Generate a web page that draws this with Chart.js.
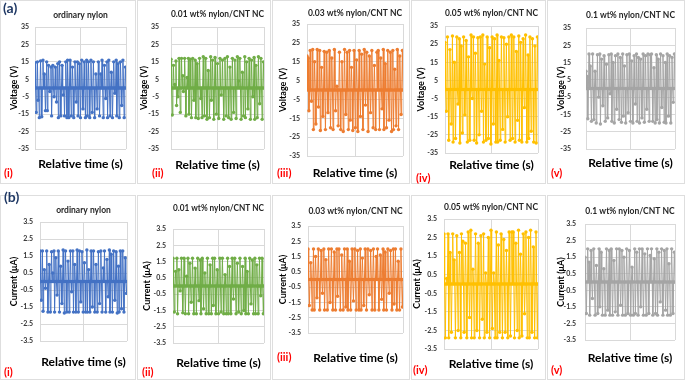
<!DOCTYPE html>
<html lang="en">
<head>
<meta charset="UTF-8">
<title>Nylon and nylon/CNT NC output</title>
<script src="https://cdn.jsdelivr.net/npm/chart.js"></script>
<style>
  body { margin: 0; width: 685px; height: 380px; background: #fff; position: relative; overflow: hidden; font-family: 'Lato', sans-serif; }
  .panel { position: absolute; outline: 1px solid #dedede; outline-offset: -1px; }
  .panel canvas { position: absolute; left: 0; top: 0; }
  .tag { position: absolute; font-weight: bold; color: #ff0000; font-size: 11px; line-height: 12px; }
  .part { position: absolute; z-index: 5; font-weight: bold; color: #1f3864; font-size: 14px; line-height: 16px; }
</style>
</head>
<body>
<div class="part" style="left:3px;top:0px">(a)</div>
<div class="part" style="left:4px;top:189px">(b)</div>
<script>
// axis ticks
const voltTicks = [-35, -25, -15, -5, 5, 15, 25, 35];
const currTicks = [-3.5, -2.5, -1.5, -0.5, 0.5, 1.5, 2.5, 3.5];

const sampleTitles = ['ordinary nylon', '0.01 wt% nylon/CNT NC', '0.03 wt% nylon/CNT NC', '0.05 wt% nylon/CNT NC', '0.1 wt% nylon/CNT NC'];
const romans = ['(i)', '(ii)', '(iii)', '(iv)', '(v)'];
const sampleColors = ['#4472C4', '#70AD47', '#ED7D31', '#FFC000', '#A5A5A5'];

// voltage (V)
const voltOrdinary = [14.5,0,-14,0,15,-7,0,-17,0,15.5,0,-16.5,0,16,0,8,0,-13,0,15,-13,0,13,0,-2,0,12,-16,0,13,0,-5,0,12,0,-8,0,14,-17,0,15,0,-16,0,13,0,-4,0,-16,0,15,0,-17,16,0,-17,0,16,0,-16,0,12,0,-17,0,15,0,-8,0,15,-16,0,14,0,-17,0,16,0,-12,0,15,0,-17,0,16,-16,0,15,0,-17,0,16,0,-14,0,15,0,-17,0,8,0,-12,0,15,0,-16,0,8,0,16,0,-17,0,13,0,-6,0,15,-17,0,16,0,-16,0,9,0,-17,0,15,0,-3,0,16,-16,0,14,0,-17,0,15,0,-10,0,16,0,-17,0,12,0];
const volt001 = [16.5,0,-15.5,0,13,0,2,0,15.5,-10,0,-5,0,17,0,-14,0,17,0,7,-2,0,17,0,-16,0,6,0,17,-15,0,16.5,0,-17,0,17,0,-7,0,16,-17,0,14,0,-17.5,0,17,0,-6,0,-17,0,18,0,-16,0,17,0,-18,0,10,0,-17,0,18,-7,0,16,0,-18,0,17.5,0,-15,0,14,0,-17.5,0,17,0,-4,0,16,0,-18,0,17,0,-16,0,18,0,-17,0,12,0,-18,0,17,0,-14,0,16,0,-17.5,0,18,0,4,0,17,0,-18,0,9,0,-16,0,18,-17,0,15,0,-12,0,17,0,-18,0,16,0,-5,0,17.5,-18,0,13,0,-17,0,18,0,-9,0,17,0,-18,0,15,0];
const volt003 = [18,0,17,-11,0,21,0,-6,0,21.5,-21,0,15,0,-18,0,21.5,0,-9,0,21,-21.5,0,12,0,-14,0,20.5,0,-21,0,20,0,-12,0,21,0,-20,0,17,0,-21,0,21.5,0,-11,0,2,0,-19,0,20,0,-21,0,15,0,-22,0,21.5,0,-13,0,20,0,-21,0,21,-16,0,12,0,-21.5,0,21,0,-20,0,16,0,-22,0,21,0,-14,0,19,0,-21,0,21.5,0,-8,0,20,0,-22,0,18,0,-12,0,21,0,-20,0,13,0,-21,0,20,0,21,0,-21,0,17,0,-10,0,21.5,-21,0,14,0,-20,0,21,0,-16,0,20,0,-22,0,21,-21,0,11,0,-19,0,21.5,0,-21,0,18,0,-13,0,21,0];
const volt005 = [26,0,-12,0,29,0,-28,0,22,0,-19,0,29.5,-29,0,15,0,-27,0,29,0,-8,0,28,-29.5,0,24,0,-24,0,29,0,-14,0,27,0,-29,0,18,0,-28,0,30,0,-5,0,29,-28,0,20,0,-29.5,0,28.5,0,-25,0,29,0,-12,0,30,-29,0,14,0,-28,0,29,0,-27,0,23,0,-30,0,29,0,-19,0,28,0,-29,0,30,-29,0,16,0,-28,0,29,0,-22,0,28.5,0,-29,0,25,0,-15,0,29,0,-28,0,30,0,-27,0,29,0,-29,0,21,0,-17,0,29.5,-28,0,26,0,-29,0,28,0,-10,0,30,0,-29,0,19,-27,0,29,0,-23,0,28,0,-29,0,24,0,-29.5,0,29,0];
const volt01 = [10,0,7,-17.5,0,20,0,13,0,-19,0,20,0,-18,0,10,0,-20,0,19.5,0,-5,0,20,-20.5,0,17,0,-10,0,19,0,-19,0,14,0,-17,0,19.5,0,-3,0,20,-19,0,15,0,-20,0,19,0,-12,0,20,0,-18,0,18,0,-19.5,0,20,-16,0,13,0,-20,0,19.5,0,-14,0,20,0,-19,0,16,0,-20,0,19,0,-9,0,20,-19,0,18,0,-20,0,17,0,-17,0,20,0,-19.5,0,19,0,-12,0,20,0,-19,0,19.5,0,20,0,-19,0,12,0,-20,0,19.5,-18,0,17,0,-20,0,20,0,-11,0,19,0,-19.5,0,15,-20,0,20,0,-16,0,19,0,-20,0,18,0,-8,0,20,0];

// current (uA)
const currOrdinary = [1.8,0,-1.1,0,1.8,-1.75,0,0.7,0,-0.4,0,1.8,0,-1.8,0,1.0,0,-1.8,0,1.75,0,0.5,0,1.8,-1.8,0,1.4,0,-0.8,0,1.8,0,-1.8,0,0.9,0,-1.3,0,1.85,0,-1.85,0,1.8,0,-1.8,0,1.2,0,-1.8,0,1.8,0,-0.6,0,1.8,-1.8,0,1.0,0,-1.8,0,1.85,0,-1.8,0,1.8,0,-1.2,0,1.75,0,-1.8,0,1.1,0,-1.8,0,1.85,-1.8,0,0.7,0,-1.8,0,1.8,0,-1.5,0,1.8,0,-1.8,0,1.0,0,-1.8,0,1.75,0,-1.3,0,1.8,0,-1.8,0,0.8,0,1.8,0,-1.8,0,1.3,0,-0.9,0,1.85,-1.8,0,1.6,0,-1.8,0,1.8,0,-1.1,0,1.75,0,-1.85,0,0.9,-1.8,0,1.8,0,-1.6,0,1.8,0,-1.8,0,1.4,0,-0.7,0];
const curr001 = [1.7,0,-1.6,0,0.9,0,1.7,-1.7,0,1.0,0,-0.3,0,1.7,0,-1.65,0,1.7,0,-1.7,0,0.6,0,1.7,-1.7,0,1.4,0,-1.0,0,1.7,0,-1.7,0,1.1,0,-1.7,0,1.7,0,-0.9,0,1.6,-1.7,0,1.7,0,-1.4,0,0.8,0,-1.7,0,1.7,0,-1.7,0,1.3,0,-1.7,0,1.7,-1.2,0,1.7,0,-1.7,0,1.0,0,-1.7,0,1.7,0,-1.6,0,1.7,0,-1.7,0,0.7,0,-1.7,0,1.7,-1.7,0,1.2,0,-1.7,0,1.7,0,-0.8,0,1.7,0,-1.7,0,1.4,0,-1.6,0,1.7,0,-1.7,0,1.2,0,-1.5,0,1.7,-1.7,0,0.9,0,-1.7,0,1.7,0,-1.1,0,1.6,0,-1.7,0,1.7,-1.7,0,1.3,0,-1.7,0,1.7,0,-0.6,0,1.7,0,-1.7,0];
const curr003 = [2.0,0,-1.7,0,1.1,0,-2.0,0,2.0,-2.0,0,1.5,0,-1.2,0,2.0,0,-2.0,0,1.9,0,-0.9,0,2.0,-2.0,0,1.3,0,-2.0,0,2.0,0,-1.5,0,2.0,0,-2.0,0,1.8,0,-2.0,0,2.0,-1.1,0,2.0,0,-2.0,0,1.6,0,-2.0,0,2.0,0,-1.8,0,2.0,-2.0,0,1.2,0,-2.0,0,2.0,0,-1.4,0,2.0,0,-2.0,0,1.9,0,-2.0,0,2.0,-2.0,0,1.4,0,-1.7,0,2.0,0,-2.0,0,2.0,0,-1.0,0,1.9,0,-2.0,0,2.0,0,-2.0,0,1.5,0,2.0,0,-2.0,0,1.6,0,-1.3,0,2.0,-2.0,0,1.8,0,-2.0,0,2.0,0,-0.9,0,1.9,0,-2.0,0,2.0,-1.6,0,2.0,0,-2.0,0,1.2,0,-2.0,0,2.0,0,-1.8,0];
const curr005 = [2.7,0,-2.9,0,0.3,0,2.7,-2.9,0,1.7,0,-2.6,0,2.7,0,1.3,0,-2.9,0,2.6,0,-2.5,0,1.7,0,-2.9,2.7,0,2.3,0,-2.6,0,2.2,0,-2.9,0,2.8,0,-1.8,0,2.9,-2.9,0,0.8,0,-2.9,0,2.7,0,-2.5,0,2.2,0,-2.9,0,2.6,0,-1.9,0,2.7,-2.9,0,0.6,0,-2.6,0,2.5,0,-2.9,0,2.9,0,-2.4,0,0.6,0,-2.9,0,2.8,-2.9,0,2.1,0,-2.6,0,2.7,0,-2.9,0,2.4,0,-2.6,0,1.8,0,-2.9,0,2.8,0,-2.8,0,2.8,0,2.8,0,-2.9,0,2.2,0,-2.5,0,2.9,-2.9,0,1.6,0,-2.8,0,2.7,0,-1.6,0,2.8,0,-2.9,0,2.5,-2.9,0,2.9,0,-2.6,0,2.0,0,-2.9,0,2.8,0,-2.9,0];
const curr01 = [1.5,0,-1.9,0,2.0,0,1.2,-2.0,0,1.9,0,-1.0,0,2.0,0,-2.0,0,1.0,0,-1.9,0,2.0,-1.5,0,1.8,0,-2.0,0,0.8,0,-2.0,0,2.0,0,-1.7,0,1.9,-2.0,0,2.0,0,-2.0,0,1.3,0,-1.8,0,2.0,0,-2.0,0,2.0,0,-1.4,0,1.9,-2.0,0,1.5,0,-2.0,0,2.0,0,-1.9,0,1.9,0,-2.0,0,0.9,0,-2.0,0,2.0,-1.9,0,1.8,0,-2.0,0,2.0,0,-1.5,0,2.0,0,-2.0,0,1.7,0,-2.0,0,2.0,0,-1.9,0,1.6,0,2.0,0,-2.0,0,1.4,0,-1.9,0,2.0,-2.0,0,1.8,0,-1.2,0,2.0,0,-2.0,0,1.9,0,-1.7,0,2.0,-2.0,0,1.1,0,-2.0,0,2.0,0,-1.9,0,1.8,0];

const voltSeries = [voltOrdinary, volt001, volt003, volt005, volt01];
const currSeries = [currOrdinary, curr001, curr003, curr005, curr01];

// panel boxes and plot areas, px relative to each box
// L/R/T/B plot edges, tY title centre, xY x-title centre, yX y-title centre, tp tick gap, lx/ly roman label
const topRow = [
  { x: 0,   w: 136, L: 35, R: 126, T: 27, B: 149, tY: 15, xY: 164, yX: 14, tp: 6,  lx: 4, ly: 173 },
  { x: 137, w: 134, L: 34, R: 127, T: 27, B: 149, tY: 14, xY: 165, yX: 7,  tp: 12, lx: 15, ly: 173 },
  { x: 272, w: 138, L: 35, R: 131, T: 24, B: 156, tY: 13, xY: 173, yX: 11, tp: 7,  lx: 5, ly: 173 },
  { x: 411, w: 135, L: 34, R: 127, T: 26, B: 153, tY: 13, xY: 165, yX: 10, tp: 7,  lx: 5, ly: 178 },
  { x: 547, w: 138, L: 39, R: 128, T: 28, B: 149, tY: 15, xY: 163, yX: 14, tp: 15, lx: 4, ly: 173 }
];
const bottomRow = [
  { x: 0,   w: 136, L: 40, R: 127, T: 27, B: 146, tY: 15, xY: 167, yX: 14, tp: 7,  lx: 4, ly: 177 },
  { x: 137, w: 134, L: 36, R: 127, T: 34, B: 148, tY: 13, xY: 168, yX: 10, tp: 7,  lx: 5, ly: 177 },
  { x: 272, w: 138, L: 36, R: 131, T: 31, B: 138, tY: 16, xY: 163, yX: 11, tp: 7,  lx: 5, ly: 162 },
  { x: 411, w: 135, L: 33, R: 127, T: 24, B: 154, tY: 12, xY: 169, yX: 6,  tp: 7,  lx: 2, ly: 175 },
  { x: 547, w: 138, L: 38, R: 128, T: 29, B: 145, tY: 16, xY: 163, yX: 14, tp: 9,  lx: 4, ly: 175 }
];

const font = 'Lato';

function drawPanel(g, top, h, values, ticks, yTitle, title, color, roman) {
  const box = document.createElement('div');
  box.className = 'panel';
  box.style.cssText = `left:${g.x}px;top:${top}px;width:${g.w}px;height:${h}px`;
  const cv = document.createElement('canvas');
  cv.width = g.w; cv.height = h;
  box.appendChild(cv);
  const tag = document.createElement('div');
  tag.className = 'tag';
  tag.textContent = roman;
  tag.style.left = g.lx + 'px';
  tag.style.top = (g.ly - 6) + 'px';
  box.appendChild(tag);
  document.body.appendChild(box);

  const n = values.length;
  new Chart(cv, {
    type: 'line',
    data: {
      labels: values.map((v, i) => i),
      datasets: [{
        data: values,
        borderColor: color,
        backgroundColor: color,
        borderWidth: 1,
        pointRadius: 1.7,
        pointBorderWidth: 0,
        pointBackgroundColor: color,
        tension: 0
      }]
    },
    options: {
      responsive: false,
      animation: false,
      events: [],
      layout: { padding: { left: 0, right: g.w - g.R, top: 0, bottom: 0 } },
      plugins: {
        legend: { display: false },
        tooltip: { enabled: false },
        title: {
          display: true,
          text: title,
          fullSize: false,
          color: '#262626',
          font: { family: font, size: 8.5, weight: 'bold' },
          padding: { top: g.tY - 5.1, bottom: g.T - g.tY - 5.1 }
        }
      },
      scales: {
        x: {
          type: 'linear',
          min: 0,
          max: n - 1,
          afterBuildTicks: s => { s.ticks = [0, (n - 1) / 2, n - 1].map(v => ({ value: v })); },
          afterFit: s => { s.height = h - g.B; },
          ticks: { display: false },
          grid: { color: '#d9d9d9', drawTicks: false },
          border: { display: false },
          title: {
            display: true,
            text: 'Relative time (s)',
            color: '#000',
            font: { family: font, size: 12, weight: 'bold' },
            padding: { top: 0, bottom: h - g.xY - 7.2 }
          }
        },
        y: {
          min: ticks[0],
          max: ticks[ticks.length - 1],
          afterBuildTicks: s => { s.ticks = ticks.map(v => ({ value: v })); },
          afterFit: s => { s.width = g.L; },
          ticks: { color: '#333', padding: g.tp, font: { family: font, size: 7, weight: 'bold' } },
          grid: { color: '#d9d9d9', drawTicks: false },
          border: { display: false },
          title: {
            display: true,
            text: yTitle,
            color: '#000',
            font: { family: font, size: 9, weight: 'bold' },
            padding: { top: g.yX - 5.4, bottom: 0 }
          }
        }
      }
    }
  });
}

topRow.forEach((g, i) => drawPanel(g, 0, 184, voltSeries[i], voltTicks, 'Voltage (V)', sampleTitles[i], sampleColors[i], romans[i]));
bottomRow.forEach((g, i) => drawPanel(g, 195, 185, currSeries[i], currTicks, 'Current (\u03bcA)', sampleTitles[i], sampleColors[i], romans[i]));
</script>
</body>
</html>
